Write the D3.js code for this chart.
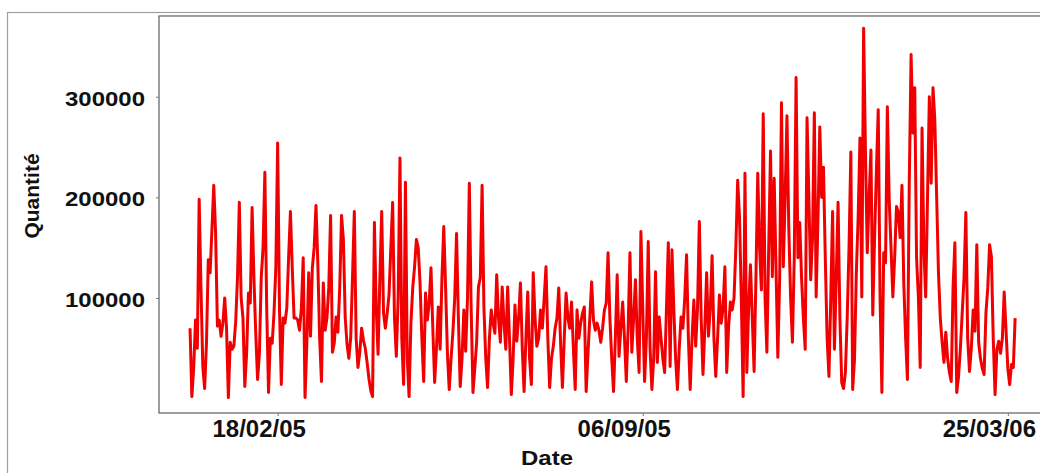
<!DOCTYPE html>
<html>
<head>
<meta charset="utf-8">
<script src="https://cdn.jsdelivr.net/npm/d3@7"></script>
<style>
  body { margin: 0; background: #fff; }
  svg text { font-family: "Liberation Sans", Arial, sans-serif; font-weight: bold; fill: #111; }
</style>
</head>
<body>
<div id="chart"></div>
<script>
/**
 * Quantité par jour, 2005-2006
 */

// Global: d3

// Daily values in thousands, first day 01/01/2005
let firstDay = '2005-01-01';
let quantityK = [
  70, 2, 30, 78, 50, 198, 110, 32, 10, 55,
  138, 125, 168, 212, 165, 72, 78, 62, 75, 100,
  70, 1, 56, 49, 52, 76, 120, 195, 100, 80,
  12, 45, 105, 95, 190, 120, 65, 19, 45, 120,
  150, 225, 90, 6, 60, 55, 85, 130, 254, 90,
  14, 80, 75, 90, 140, 186, 130, 80, 80, 78,
  68, 90, 140, 1, 55, 125, 62, 130, 150, 192,
  135, 60, 17, 115, 68, 80, 110, 182, 46, 55,
  81, 66, 110, 182, 158, 81, 54, 40, 60, 120,
  186, 60, 31, 46, 70, 58, 50, 36, 20, 8,
  2, 175, 90, 44, 120, 186, 85, 70, 85, 103,
  150, 195, 80, 42, 100, 239, 60, 14, 215, 40,
  2, 75, 110, 131, 158, 150, 115, 60, 17, 105,
  78, 95, 130, 70, 16, 50, 91, 49, 120, 171,
  110, 45, 9, 40, 66, 100, 164, 80, 12, 40,
  88, 47, 100, 214, 90, 6, 30, 56, 111, 120,
  212, 90, 40, 11, 60, 88, 75, 65, 123, 80,
  56, 111, 75, 49, 111, 60, 4, 40, 93, 57,
  80, 115, 50, 7, 60, 106, 40, 14, 125, 80,
  52, 60, 88, 70, 100, 131, 60, 11, 40, 52,
  70, 80, 110, 55, 11, 60, 105, 80, 70, 96,
  50, 9, 88, 60, 75, 85, 91, 7, 45, 80,
  116, 78, 68, 75, 68, 56, 70, 88, 95, 145,
  80, 40, 7, 60, 123, 42, 70, 96, 60, 17,
  70, 145, 46, 80, 118, 60, 26, 166, 90, 17,
  60, 156, 50, 9, 40, 126, 36, 81, 60, 40,
  26, 90, 155, 32, 148, 90, 40, 9, 50, 81,
  70, 100, 143, 60, 9, 60, 98, 52, 90, 176,
  80, 24, 70, 125, 62, 90, 142, 60, 22, 60,
  103, 75, 90, 131, 26, 70, 96, 88, 100, 150,
  217, 181, 98, 2, 224, 26, 90, 133, 80, 27,
  120, 224, 150, 108, 283, 100, 46, 150, 246, 121,
  219, 130, 41, 120, 294, 131, 200, 281, 170, 100,
  56, 140, 319, 140, 175, 120, 80, 49, 279, 200,
  118, 160, 284, 101, 180, 270, 200, 230, 140, 60,
  22, 100, 186, 49, 120, 195, 80, 16, 10, 26,
  80, 150, 245, 9, 39, 125, 180, 259, 101, 368,
  245, 145, 200, 247, 83, 160, 227, 287, 101, 6,
  145, 135, 290, 198, 150, 101, 140, 191, 185, 160,
  212, 115, 60, 19, 214, 342, 264, 309, 140, 101,
  31, 269, 150, 101, 200, 300, 214, 309, 277, 201,
  125, 80, 56, 36, 66, 40, 26, 17, 111, 155,
  6, 22, 50, 85, 120, 185, 60, 27, 50, 88,
  67, 153, 56, 40, 30, 24, 85, 110, 153, 141,
  60, 4, 49, 57, 45, 60, 106, 68, 30, 14,
  34, 31, 80
];

// Axis ticks
let xTickDates = ['2005-02-18', '2005-09-06', '2006-03-25'];
let yTickValues = [100000, 200000, 300000];

let width = 1040;
let height = 473;
let box = { left: 159, top: 16, right: 1048, bottom: 413 };

let parseDay = d3.utcParse('%Y-%m-%d');
let start = parseDay(firstDay);
let series = quantityK.map((q, i) => ({ date: d3.utcDay.offset(start, i), value: q * 1000 }));

// Scales
let x = d3.scaleUtc()
  .domain([d3.utcDay.offset(series[0].date, -17), d3.utcDay.offset(series[series.length - 1].date, 18)])
  .range([box.left, box.right]);

let y = d3.scaleLinear()
  .domain([-14300, 380200])
  .range([box.bottom, box.top]);

let svg = d3.select('#chart').append('svg')
  .attr('width', width)
  .attr('height', height);

// Outer frame
svg.append('rect')
  .attr('x', 7.5).attr('y', 12.5)
  .attr('width', 1100).attr('height', 500)
  .attr('fill', 'none')
  .attr('stroke', '#a0a0a0')
  .attr('stroke-width', 1.2);

// Plot box
svg.append('rect')
  .attr('x', box.left).attr('y', box.top)
  .attr('width', box.right - box.left).attr('height', box.bottom - box.top)
  .attr('fill', 'none')
  .attr('stroke', '#6a6a6a')
  .attr('stroke-width', 1.3);

// Line
let line = d3.line()
  .x(d => x(d.date))
  .y(d => y(d.value));

svg.append('path')
  .datum(series)
  .attr('d', line)
  .attr('fill', 'none')
  .attr('stroke', '#f00000')
  .attr('stroke-width', 3)
  .attr('stroke-linejoin', 'round');

// Y axis
let yAxis = svg.append('g')
  .attr('transform', `translate(${box.left},0)`)
  .call(d3.axisLeft(y).tickValues(yTickValues).tickSize(3).tickPadding(11).tickFormat(d3.format('d')));
yAxis.select('.domain').remove();
yAxis.selectAll('line').attr('stroke', '#777');
yAxis.selectAll('text')
  .attr('dy', '0.41em')
  .attr('textLength', 80)
  .attr('lengthAdjust', 'spacingAndGlyphs')
  .style('font-size', '21px');

// X axis
let xAxis = svg.append('g')
  .attr('transform', `translate(0,${box.bottom})`)
  .call(d3.axisBottom(x).tickValues(xTickDates.map(parseDay)).tickSize(3).tickPadding(4).tickFormat(d3.utcFormat('%d/%m/%y')));
xAxis.select('.domain').remove();
xAxis.selectAll('line').attr('stroke', '#777');
xAxis.selectAll('text')
  .attr('dx', -19)
  .style('font-size', '24px');

// Axis titles
svg.append('text')
  .attr('x', 547)
  .attr('y', 465)
  .attr('text-anchor', 'middle')
  .attr('textLength', 52)
  .attr('lengthAdjust', 'spacingAndGlyphs')
  .style('font-size', '21px')
  .text('Date');

svg.append('text')
  .attr('transform', 'translate(39,196) rotate(-90)')
  .attr('text-anchor', 'middle')
  .style('font-size', '21px')
  .text('Quantité');
</script>
</body>
</html>
